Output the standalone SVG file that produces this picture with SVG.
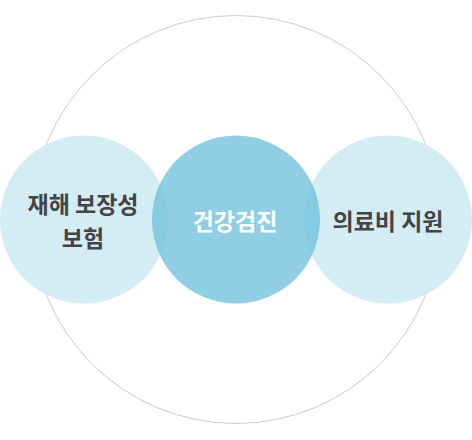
<svg xmlns="http://www.w3.org/2000/svg" width="472" height="440" viewBox="0 0 472 440">
<style>
.t{font-family:"Noto Sans CJK KR","Noto Sans",sans-serif;font-weight:bold;font-size:23px;text-anchor:middle}
.dark{fill:#444444}
.light{fill:#ffffff}
.side{fill:#d4ecf4}
.mid{fill:#6fc1db;fill-opacity:0.77}
</style>
<rect width="472" height="440" fill="#ffffff"/>
<g id="outer"><circle cx="236" cy="219.5" r="204" fill="none" stroke="#cccccc" stroke-width="1"/></g>
<g id="left"><circle class="side" cx="84" cy="219.5" r="84"/><text class="t dark" x="83" y="213">재해 보장성</text><text class="t dark" x="83" y="247">보험</text></g>
<g id="right"><circle class="side" cx="388" cy="219.5" r="84"/><text class="t dark" x="388" y="230">의료비 지원</text></g>
<g id="center"><circle class="mid" cx="236" cy="219.5" r="84"/><text class="t light" x="235" y="230">건강검진</text></g>
<g id="connectors"></g>
</svg>
